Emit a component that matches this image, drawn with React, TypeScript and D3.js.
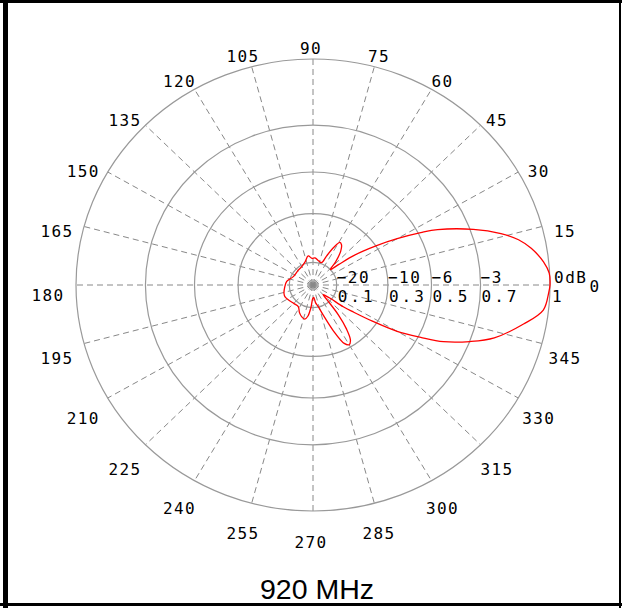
import React from "react";
import * as d3 from "d3";

// angle tick labels (degrees)
const angleLabels = [0, 15, 30, 45, 60, 75, 90, 105, 120, 135, 150, 165, 180, 195, 210, 225, 240, 255, 270, 285, 300, 315, 330, 345];

// rings: relative field strength, with their dB and linear labels
const ringValues = [0.1, 0.316, 0.5, 0.707, 1];
const ringDb = ["\u221220", "\u221210", "\u22126", "\u22123", "0dB"];
const ringLin = ["0.1", "0.3", "0.5", "0.7", "1"];

// radiation pattern: angle (deg) and relative field
const patternAngle = [
  0, 3, 6, 10, 13, 16, 20, 25, 27, 30, 33, 37, 40, 43, 47, 52, 56, 59, 62, 66, 70, 78, 86, 92, 99,
  108, 121, 135, 156, 172, 185, 197, 204, 212, 225, 237, 245, 251, 257, 261, 265, 269, 273, 278,
  283, 288, 293, 297, 300, 303, 306, 309, 312, 315, 318, 321, 323, 325, 327.5, 330, 333, 335.5,
  339.3, 343, 349, 353.5, 358,
];
const patternAmp = [
  1.0, 0.998, 0.978, 0.935, 0.89, 0.825, 0.72, 0.58, 0.51, 0.41, 0.32, 0.22, 0.14, 0.1, 0.14, 0.19,
  0.215, 0.22, 0.19, 0.14, 0.105, 0.11, 0.12, 0.118, 0.13, 0.108, 0.094, 0.09, 0.091, 0.112, 0.12,
  0.128, 0.129, 0.123, 0.115, 0.114, 0.135, 0.148, 0.155, 0.14, 0.1, 0.06, 0.055, 0.08, 0.098, 0.14,
  0.22, 0.29, 0.305, 0.29, 0.24, 0.17, 0.09, 0.06, 0.07, 0.093, 0.16, 0.21, 0.3, 0.41, 0.51, 0.605,
  0.708, 0.8, 0.905, 0.978, 0.995,
];

const title = "920 MHz";

const W = 622;
const H = 608;
const cx = 313;
const cy = 285;

const App = () => {
  // the plot is slightly squashed vertically
  const rX = d3.scaleLinear().domain([0, 1]).range([0, 237]);
  const rY = d3.scaleLinear().domain([0, 1]).range([0, 226]);
  const rad = (deg: number) => (deg * Math.PI) / 180;
  const px = (deg: number, v: number) => cx + rX(v) * Math.cos(rad(deg));
  const py = (deg: number, v: number) => cy - rY(v) * Math.sin(rad(deg));

  const pts = patternAngle.map((a, i) => [a, patternAmp[i]] as [number, number]);
  const line = d3
    .line<[number, number]>()
    .x((d) => px(d[0], d[1]))
    .y((d) => py(d[0], d[1]))
    .curve(d3.curveCatmullRomClosed.alpha(0.5));

  const labelFont = "'DejaVu Sans Mono', monospace";
  const gray = "#999";

  return (
    <div style={{ position: "absolute", left: 0, top: 0 }}>
      <svg width={W} height={H} style={{ display: "block", background: "#fff" }}>
        {/* frame */}
        <line x1={0} x2={W} y1={1.5} y2={1.5} stroke="#000" strokeWidth={3} />
        <line x1={5.5} x2={5.5} y1={0} y2={H} stroke="#000" strokeWidth={5} />
        <line x1={620} x2={620} y1={0} y2={H} stroke="#000" strokeWidth={2} />
        <line x1={0} x2={W} y1={604.5} y2={604.5} stroke="#000" strokeWidth={3} />

        {/* spokes */}
        {angleLabels.map((a) => (
          <line
            key={"s" + a}
            x1={cx}
            y1={cy}
            x2={px(a, 1)}
            y2={py(a, 1)}
            stroke="#888"
            strokeWidth={1}
            strokeDasharray="6,4"
          />
        ))}

        {/* rings */}
        {ringValues.map((v) => (
          <ellipse
            key={"r" + v}
            cx={cx}
            cy={cy}
            rx={rX(v)}
            ry={rY(v)}
            fill="none"
            stroke={gray}
            strokeWidth={1.2}
          />
        ))}

        {/* ring labels */}
        {ringValues.map((v, i) => (
          <g key={"rl" + v} fontFamily={labelFont} fontSize={16} fill="#000">
            <text x={px(0, v) + (i === 4 ? 4 : 0)} y={cy - 2} style={{ letterSpacing: "1.5px" }}>
              {ringDb[i]}
            </text>
            <text x={px(0, v) + (i === 4 ? 2 : 1)} y={cy + 17} style={{ letterSpacing: "3px" }}>
              {ringLin[i]}
            </text>
          </g>
        ))}

        {/* angle labels */}
        {angleLabels.map((a) => {
          const x = a === 0 ? 595 : cx - 2 + 263 * Math.cos(rad(a));
          const y = a === 0 ? 286 : cy + 10 - 247 * Math.sin(rad(a));
          return (
            <text
              key={"al" + a}
              x={x}
              y={y}
              textAnchor="middle"
              dominantBaseline="central"
              fontFamily={labelFont}
              fontSize={16}
              fill="#000"
              style={{ letterSpacing: "1.4px" }}
            >
              {a}
            </text>
          );
        })}

        {/* pattern */}
        <path d={line(pts) ?? ""} fill="none" stroke="#ff0000" strokeWidth={1.3} />

        {/* title */}
        <text
          x={317}
          y={599}
          textAnchor="middle"
          fontFamily="'Liberation Sans', Arial, sans-serif"
          fontSize={28.5}
          fill="#000"
        >
          {title}
        </text>
      </svg>
    </div>
  );
};

export default App;
